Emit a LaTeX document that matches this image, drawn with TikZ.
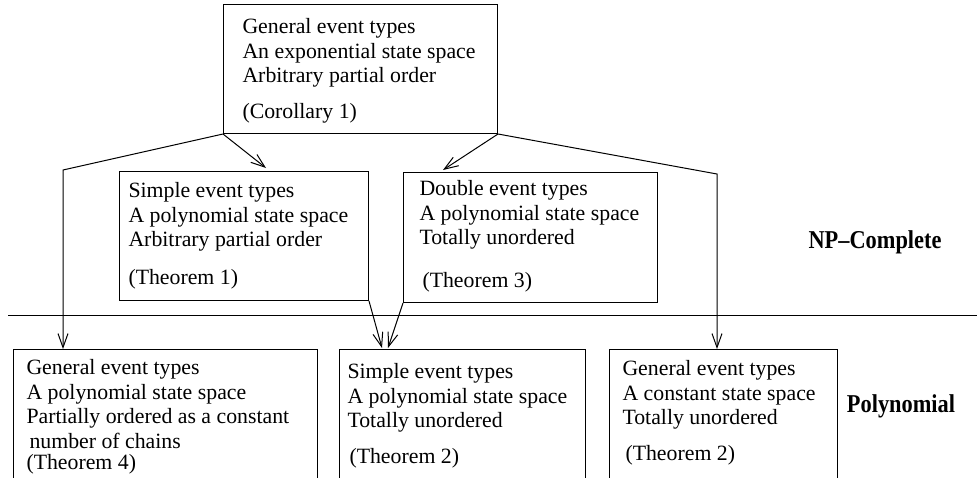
\documentclass[tikz,border=0pt]{standalone}
\usepackage{fontspec}
\setmainfont{Liberation Serif}
\newfontfamily\tagfont[FakeStretch=0.87]{Liberation Serif Bold}
\usepackage{tikz}
\usetikzlibrary{arrows.meta,calc}

\begin{document}
\begin{tikzpicture}[x=1pt,y=-1pt,line width=1pt,
    >={Straight Barb[length=14pt,width=10pt]},
    box/.style={draw,rectangle,inner sep=0pt,anchor=north west},
    txt/.style={inner sep=0pt,anchor=north west,align=left,
      font=\fontsize{21.8}{24.5}\selectfont},
    tag/.style={inner sep=0pt,anchor=base,font=\tagfont\fontsize{25.7}{28}\selectfont}]
  \clip (0,0) rectangle (977,477);
  % boxes
  \node[box,minimum width=274pt,minimum height=129pt] (top) at (223,4) {};
  \node[box,minimum width=249pt,minimum height=129pt] (simple) at (119,171) {};
  \node[box,minimum width=254pt,minimum height=130pt] (double) at (403,172) {};
  \node[box,minimum width=304pt,minimum height=200pt] (chains) at (13,349) {};
  \node[box,minimum width=246pt,minimum height=200pt] (unord) at (339,349) {};
  \node[box,minimum width=228pt,minimum height=200pt] (const) at (609,349) {};
  % texts
  \node[txt] (toptxt) at ([shift={(19,14)}]top.north west)
    {General event types\\An exponential state space\\Arbitrary partial order\\[11.5pt](Corollary 1)};
  \node[txt] (simpletxt) at ([shift={(9,11)}]simple.north west)
    {Simple event types\\A polynomial state space\\Arbitrary partial order\\[13.5pt](Theorem 1)};
  \node[txt] (doubletxt) at ([shift={(16,8)}]double.north west)
    {Double event types\\A polynomial state space\\Totally unordered\\[18.5pt]\hspace*{3pt}(Theorem 3)};
  \node[txt] (chainstxt) at ([shift={(13,10)}]chains.north west)
    {General event types\\A polynomial state space\\Partially ordered as a constant\\\hspace*{3pt}number of chains\\[-3.5pt](Theorem 4)};
  \node[txt] (unordtxt) at ([shift={(8,14)}]unord.north west)
    {Simple event types\\A polynomial state space\\Totally unordered\\[11.5pt]\hspace*{2pt}(Theorem 2)};
  \node[txt] (consttxt) at ([shift={(13,11)}]const.north west)
    {General event types\\A constant state space\\Totally unordered\\[11.5pt]\hspace*{3pt}(Theorem 2)};
  % classes
  \node[tag] (np) at (875,248) {NP–Complete};
  \node[tag] (poly) at (901,412) {Polynomial};
  \draw (8,315) -- (977,315);
  % connectors
  \coordinate (lbend) at (63,170);
  \coordinate (rbend) at (717,174);
  \draw[->] (top.south west) -- (lbend) -- (lbend |- chains.north);
  \draw[->] (top.south east) -- (rbend) -- (rbend |- const.north);
  \draw[->] (top.south west) -- ([shift={(147,-3)}]simple.north west);
  \draw[->] (top.south east) -- ([shift={(40,-2)}]double.north west);
  \draw[->] (simple.south east) -- ([shift={(43,-1)}]unord.north west);
  \draw[->] (double.south west) -- ([shift={(49,-1)}]unord.north west);
\end{tikzpicture}
\end{document}
